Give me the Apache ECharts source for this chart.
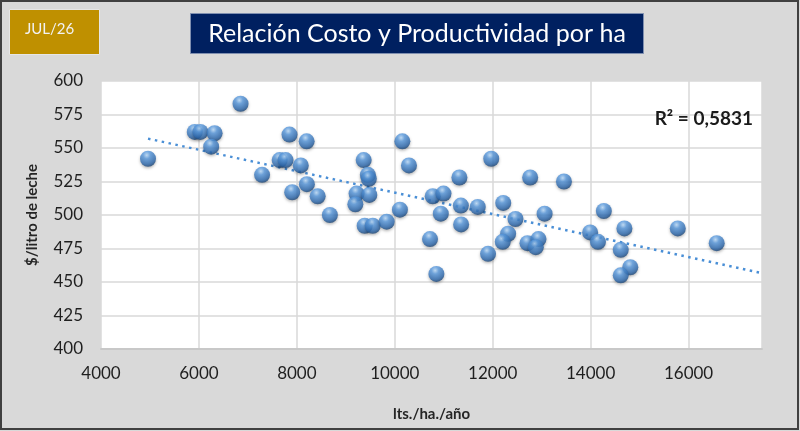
<!DOCTYPE html>
<html>
<head>
<meta charset="utf-8">
<script src="https://cdn.jsdelivr.net/npm/echarts@6/dist/echarts.min.js"></script>
<style>
  html, body { margin: 0; padding: 0; background: #d9d9d9; }
  #chart { width: 800px; height: 431px; }
</style>
</head>
<body>
<div id="chart"></div>
<script>
// datos: lts./ha./año y $/litro de leche
var litrosHa = [4960, 5915, 6030, 6320, 6250, 6850, 7290, 7650, 7770, 7850,
  8080, 8200, 7905, 8205, 8425, 8675, 9365, 9450, 9470, 9220,
  9480, 9195, 9385, 9550, 9835, 10105, 10155, 10290, 11970, 11320,
  12765, 13455, 10775, 10995, 11350, 11695, 12215, 10940, 11355, 10720,
  10850, 11905, 12465, 12315, 12205, 12710, 12935, 12880, 13060, 13990,
  14150, 14270, 14690, 14615, 14810, 14615, 15780, 16575];
var costoLitro = [542, 562, 562, 561, 551, 583, 530, 541, 541, 560,
  537, 555, 517, 523, 514, 500, 541, 530, 527, 516,
  515, 508, 492, 492, 495, 504, 555, 537, 542, 528,
  528, 525, 514, 516, 507, 506, 509, 501, 493, 482,
  456, 471, 497, 486, 480, 479, 482, 476, 501, 487,
  480, 503, 490, 474, 461, 455, 490, 479];
// línea de tendencia (extremos leídos)
var tendX = [4960, 17500];
var tendY = [557, 456.6];
var r2Texto = 'R² = 0,5831';

var puntos = litrosHa.map(function(x, i){ return [x, costoLitro[i]]; });
var tendencia = tendX.map(function(x, i){ return [x, tendY[i]]; });

var fuente = 'Lato';
var myChart = echarts.init(document.getElementById('chart'));
var option = {
  backgroundColor: '#d9d9d9',
  animation: false,
  grid: { left: 101, right: 38, top: 81, bottom: 82,
    show: true, backgroundColor: '#ffffff', borderWidth: 0 },
  xAxis: {
    type: 'value', min: 4000, max: 17500, interval: 2000,
    name: 'lts./ha./año', nameLocation: 'middle', nameGap: 58,
    nameTextStyle: { fontFamily: fuente, fontSize: 15, fontWeight: 'bold', color: '#262626' },
    axisLine: { show: true, lineStyle: { color: '#c8c8c8', width: 2 } },
    axisTick: { show: false },
    axisLabel: { fontFamily: fuente, fontSize: 17, color: '#1f1f1f', margin: 16, showMaxLabel: false,
      formatter: function(v){ return String(v); } },
    splitLine: { show: true, lineStyle: { color: '#d9d9d9', width: 1.5 } }
  },
  yAxis: {
    type: 'value', min: 400, max: 600, interval: 25,
    name: '$/litro de leche', nameLocation: 'middle', nameGap: 61, nameRotate: 90,
    nameTextStyle: { fontFamily: fuente, fontSize: 15, fontWeight: 'bold', color: '#262626' },
    axisLine: { show: false },
    axisTick: { show: false },
    axisLabel: { fontFamily: fuente, fontSize: 17, color: '#1f1f1f', margin: 18 },
    splitLine: { show: true, lineStyle: { color: '#d9d9d9', width: 1.5 } }
  },
  series: [
    {
      type: 'line', data: tendencia, symbol: 'none', silent: true, z: 1,
      lineStyle: { color: '#4a8fd6', width: 2.5, type: [2.5, 4.5] }
    },
    {
      type: 'scatter', data: puntos, symbolSize: 16, z: 3,
      itemStyle: {
        color: {
          type: 'radial', x: 0.42, y: 0.28, r: 0.75,
          colorStops: [
            { offset: 0, color: '#bfe0ff' },
            { offset: 0.3, color: '#5a9be0' },
            { offset: 0.75, color: '#2f6bb0' },
            { offset: 1, color: '#18406f' }
          ]
        },
        shadowBlur: 3, shadowColor: 'rgba(0,0,0,0.35)', shadowOffsetY: 1.5
      }
    }
  ],
  graphic: [
    { type: 'rect', shape: { x: 1, y: 1, width: 797, height: 428 },
      style: { fill: 'none', stroke: '#404040', lineWidth: 2 }, z: 10 },
    { type: 'rect', shape: { x: 9.5, y: 9.5, width: 90, height: 45 },
      style: { fill: '#bf9000', stroke: '#e6e6e6', lineWidth: 1 } },
    { type: 'text', left: 25, top: 22,
      style: { text: 'JUL/26', fill: '#f2f2f2', fontFamily: fuente, fontSize: 15 } },
    { type: 'rect', shape: { x: 190.5, y: 13.5, width: 453, height: 40 },
      style: { fill: '#002060', stroke: '#7f8fb0', lineWidth: 1 } },
    { type: 'text', x: 417, y: 34,
      style: { text: 'Relación Costo y Productividad por ha', fill: '#ffffff',
        fontFamily: fuente, fontSize: 25, textAlign: 'center', textVerticalAlign: 'middle' } },
    { type: 'text', x: 753, y: 119, z: 5,
      style: { text: r2Texto, fill: '#1a1a1a', stroke: 'none', lineWidth: 0, fontFamily: fuente, fontSize: 19,
        fontWeight: 'bold', textAlign: 'right', textVerticalAlign: 'middle' } }
  ]
};
myChart.setOption(option);
</script>
</body>
</html>
